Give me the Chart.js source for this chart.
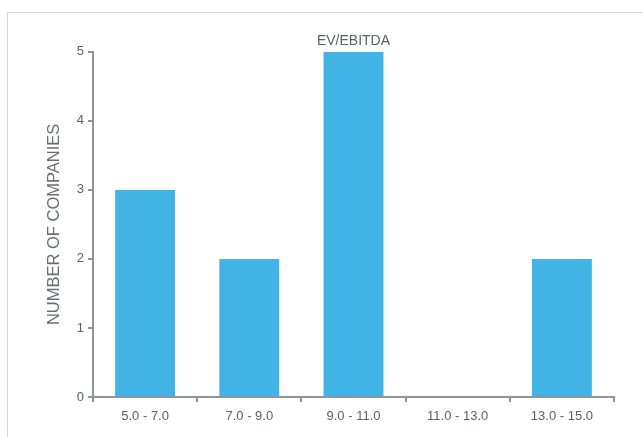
<!DOCTYPE html>
<html>
<head>
<meta charset="utf-8">
<script src="https://cdn.jsdelivr.net/npm/chart.js@4"></script>
<style>
  html, body { margin: 0; padding: 0; background: #fff; overflow: hidden; }
  #wrap { position: relative; width: 643px; height: 437px; }
  #frame {
    position: absolute; left: 7px; top: 12px; width: 700px; height: 500px;
    border-top: 1px solid #d3d7da; border-left: 1px solid #d3d7da;
  }
  canvas { position: absolute; left: 0; top: 0; }
</style>
</head>
<body>
<div id="wrap">
  <div id="frame"></div>
  <canvas id="chart" width="643" height="437"></canvas>
</div>
<script>
'use strict';

// EV/EBITDA histogram
const RANGES = ['5.0 - 7.0', '7.0 - 9.0', '9.0 - 11.0', '11.0 - 13.0', '13.0 - 15.0'];
const COMPANIES = [3, 2, 5, 0, 2];
const Y_TICKS = [0, 1, 2, 3, 4, 5];

const AXIS = '#8c959b';
const TEXT = '#596166';
const FONT = '"Liberation Sans", Arial, Helvetica, sans-serif';

new Chart(document.getElementById('chart'), {
  type: 'bar',
  data: {
    labels: RANGES,
    datasets: [{
      data: COMPANIES,
      backgroundColor: '#42b3e5',
      borderWidth: 0,
      categoryPercentage: 1,
      barPercentage: 0.575,
    }],
  },
  options: {
    responsive: false,
    animation: false,
    devicePixelRatio: 1,
    layout: { padding: { top: 33, right: 29, bottom: 0, left: 0 } },
    plugins: {
      legend: { display: false },
      tooltip: { enabled: false },
      title: {
        display: true,
        fullSize: false,
        text: 'EV/EBITDA',
        color: TEXT,
        font: { family: FONT, size: 14, weight: 'normal' },
        padding: { top: 0, bottom: 2 },
      },
    },
    scales: {
      x: {
        grid: { drawOnChartArea: false, drawTicks: true, tickLength: 5, color: AXIS, lineWidth: 2, offset: true },
        border: { display: true, color: AXIS, width: 2 },
        ticks: { color: TEXT, font: { family: FONT, size: 13 }, padding: 7, maxRotation: 0 },
        afterFit: (s) => { s.height = 40; },
      },
      y: {
        min: 0,
        max: 5,
        afterBuildTicks: (s) => { s.ticks = Y_TICKS.map(v => ({ value: v })); },
        grid: { drawOnChartArea: false, drawTicks: true, tickLength: 5, color: AXIS, lineWidth: 2 },
        border: { display: true, color: AXIS, width: 2 },
        ticks: { color: TEXT, font: { family: FONT, size: 13 }, padding: 4 },
        title: {
          display: true,
          text: 'NUMBER OF COMPANIES',
          color: '#687076',
          font: { family: FONT, size: 16.5 },
          padding: { top: 45, bottom: 0 },
        },
        afterFit: (s) => { s.width = 93; },
      },
    },
  },
});
</script>
</body>
</html>
